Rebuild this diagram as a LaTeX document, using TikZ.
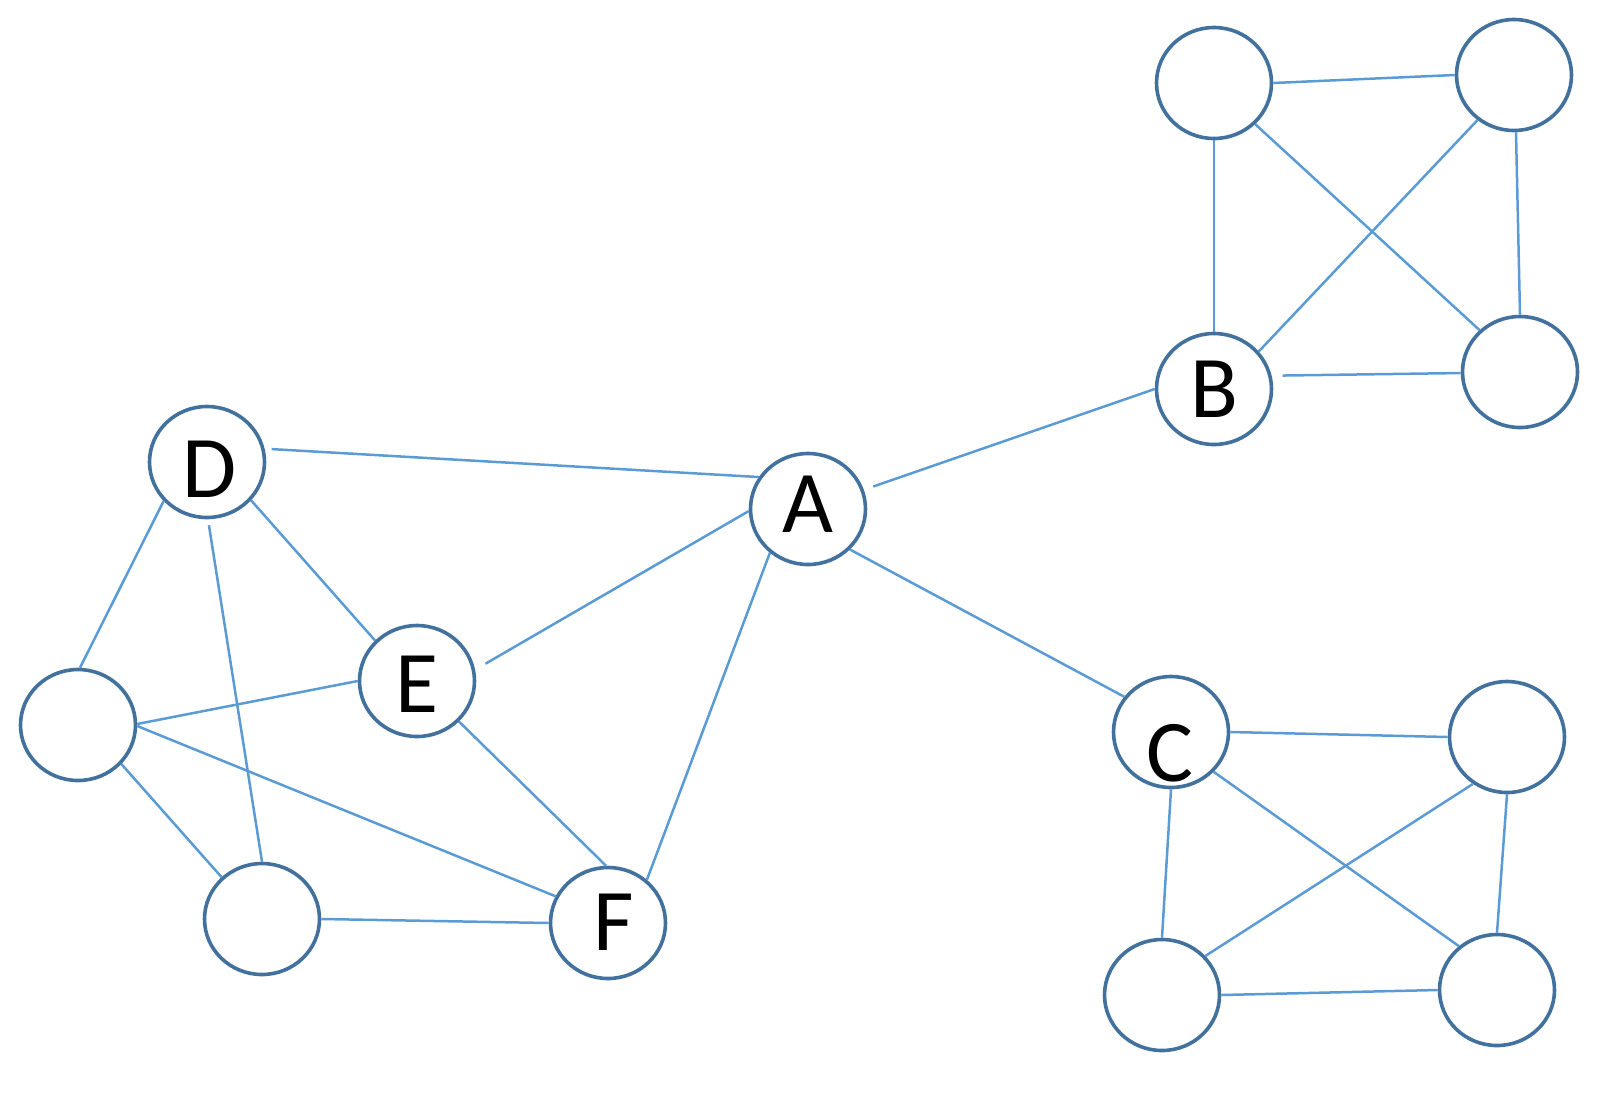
\documentclass[tikz,border=0pt]{standalone}
\usepackage{fontspec}
\setmainfont{Carlito}
\usetikzlibrary{shapes.geometric}
\definecolor{ring}{HTML}{41719C}
\definecolor{link}{HTML}{5B9BD5}
\tikzset{
  vert/.style={ellipse, draw=ring, line width=3.6pt, fill=white,
    minimum width=115pt, minimum height=111pt, inner sep=0pt},
  lbl/.style={font=\fontsize{88}{100}\selectfont, inner sep=0pt, text=black},
  edge/.style={draw=link, line width=2.5pt}
}
\begin{document}
\begin{tikzpicture}[x=1pt,y=-1pt]
\useasboundingbox (0,0) rectangle (1611,1117);
% B group
\node[vert] (btl) at (1214,83) {};
\node[vert] (btr) at (1514,75) {};
\node[vert] (B)   at (1214,389) {};
\node[vert] (bbr) at (1520,372) {};
% C group
\node[vert] (C)   at (1171,732) {};
\node[vert] (ctr) at (1507,737) {};
\node[vert] (cbl) at (1162,995) {};
\node[vert] (cbr) at (1497,990) {};
% left cluster
\node[vert] (D)  at (207,462) {};
\node[vert] (A)  at (808,509) {};
\node[vert] (E)  at (417,681) {};
\node[vert] (L)  at (78,725) {};
\node[vert] (BL) at (262,919) {};
\node[vert] (F)  at (608,923) {};
% labels
\node[lbl] (tA) at (808,504) {A};
\node[lbl] (tB) at (1214,389) {B};
\node[lbl] (tC) at (1170,753) {C};
\node[lbl] (tD) at (210,469) {D};
\node[lbl] (tE) at (417,684) {E};
\node[lbl] (tF) at (614,922) {F};
% edges
\path[edge, shorten <=7pt] (D.13) -- (A.147);
\path[edge] (D.-41) -- (E.136);
\path[edge] (D.-138) -- (L.88);
\path[edge, shorten <=6pt] (D.-89) -- (BL.90);
\path[edge, shorten >=12pt] (A.182) -- (E.11);
\path[edge] (A.-131) -- (F.48);
\path[edge, shorten <=10pt] (A.19) -- (B.180);
\path[edge] (A.-44) -- (C.143);
\path[edge] (E.180) -- (L.1);
\path[edge] (E.-44) -- (F.92);
\path[edge] (L.-1) -- (F.153);
\path[edge] (L.-42) -- (BL.134);
\path[edge] (BL.0) -- (F.180);
\path[edge] (btl.0) -- (btr.180);
\path[edge] (btl.-90) -- (B.90);
\path[edge] (btl.-45) -- (bbr.134);
\path[edge] (btr.-129) -- (B.40);
\path[edge] (btr.-88) -- (bbr.90);
\path[edge, shorten <=11pt] (B.13) -- (bbr.181);
\path[edge] (C.0) -- (ctr.180);
\path[edge] (C.-90) -- (cbl.90);
\path[edge] (C.-43) -- (cbr.131);
\path[edge] (ctr.-126) -- (cbl.42);
\path[edge] (ctr.-90) -- (cbr.90);
\path[edge] (cbl.0) -- (cbr.180);
\end{tikzpicture}
\end{document}
